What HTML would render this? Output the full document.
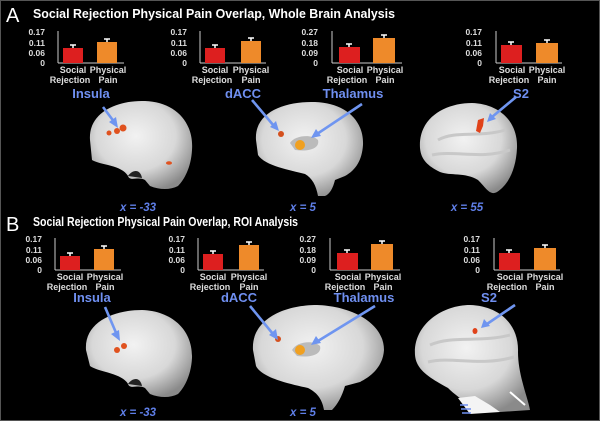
<!DOCTYPE html>
<html><head><meta charset="utf-8"><style>
html,body{margin:0;padding:0;background:#000;}
svg{display:block;}
text{font-family:"Liberation Sans",sans-serif;}
.t{fill:#fff;font-weight:bold;font-size:12.5px;}
.tk{fill:#ddd;font-weight:bold;font-size:8.5px;text-anchor:end;}
.cl{fill:#ddd;font-weight:bold;font-size:9px;text-anchor:middle;}
.rl{fill:#6f8ff0;font-weight:bold;font-size:13px;text-anchor:middle;}
.xl{fill:#5f7fe8;font-weight:bold;font-style:italic;font-size:11.5px;text-anchor:middle;}
.ar{stroke:#6f95f0;stroke-width:2.6;fill:none;}
.ah{fill:#6f95f0;}
</style></head><body>
<svg width="600" height="421" viewBox="0 0 600 421" xmlns="http://www.w3.org/2000/svg">
<defs>
<radialGradient id="g" cx="45%" cy="40%" r="65%">
<stop offset="0" stop-color="#f2f2f2"/><stop offset="0.6" stop-color="#d8d8d8"/><stop offset="1" stop-color="#8a8a8a"/>
</radialGradient>
<g id="chart">
<line x1="0" y1="0" x2="0" y2="32" stroke="#ccc" stroke-width="1"/>
<line x1="0" y1="32" x2="66" y2="32" stroke="#ccc" stroke-width="1"/>
</g>
</defs>
<rect width="600" height="421" fill="#000"/>
<rect x="0.5" y="0.5" width="599" height="420" fill="none" stroke="#555"/>

<!-- Panel A -->
<text x="6" y="22" fill="#fff" font-size="20" font-family="Liberation Sans">A</text>
<text x="33" y="18" class="t" textLength="362" lengthAdjust="spacingAndGlyphs">Social Rejection Physical Pain Overlap, Whole Brain Analysis</text>

<!-- charts A: base y=63 -->
<g id="cA1">
<g class="tk"><text x="45" y="35">0.17</text><text x="45" y="46">0.11</text><text x="45" y="56">0.06</text><text x="45" y="66">0</text></g>
<line x1="58" y1="31" x2="58" y2="63" stroke="#ccc"/><line x1="58" y1="63" x2="124" y2="63" stroke="#ccc"/>
<rect x="63" y="48" width="20" height="15" fill="#dd1f1f"/><rect x="97" y="42" width="20" height="21" fill="#ee8a2a"/>
<path d="M73 48V45M70 45h6M107 42V39M104 39h6" stroke="#fff" stroke-width="1.5"/>
<g class="cl"><text x="73" y="73">Social</text><text x="70" y="83">Rejection</text><text x="108" y="73">Physical</text><text x="108" y="83">Pain</text></g>
</g>
<g>
<g class="tk"><text x="187" y="35">0.17</text><text x="187" y="46">0.11</text><text x="187" y="56">0.06</text><text x="187" y="66">0</text></g>
<line x1="200" y1="31" x2="200" y2="63" stroke="#ccc"/><line x1="200" y1="63" x2="266" y2="63" stroke="#ccc"/>
<rect x="205" y="48" width="20" height="15" fill="#dd1f1f"/><rect x="241" y="41" width="20" height="22" fill="#ee8a2a"/>
<path d="M215 48V45M212 45h6M251 41V38M248 38h6" stroke="#fff" stroke-width="1.5"/>
<g class="cl"><text x="215" y="73">Social</text><text x="212" y="83">Rejection</text><text x="251" y="73">Physical</text><text x="251" y="83">Pain</text></g>
</g>
<g>
<g class="tk"><text x="318" y="35">0.27</text><text x="318" y="46">0.18</text><text x="318" y="56">0.09</text><text x="318" y="66">0</text></g>
<line x1="332" y1="31" x2="332" y2="63" stroke="#ccc"/><line x1="332" y1="63" x2="402" y2="63" stroke="#ccc"/>
<rect x="339" y="47" width="21" height="16" fill="#dd1f1f"/><rect x="373" y="38" width="22" height="25" fill="#ee8a2a"/>
<path d="M349 47V44M346 44h6M384 38V35M381 35h6" stroke="#fff" stroke-width="1.5"/>
<g class="cl"><text x="350" y="73">Social</text><text x="347" y="83">Rejection</text><text x="385" y="73">Physical</text><text x="385" y="83">Pain</text></g>
</g>
<g>
<g class="tk"><text x="482" y="35">0.17</text><text x="482" y="46">0.11</text><text x="482" y="56">0.06</text><text x="482" y="66">0</text></g>
<line x1="496" y1="31" x2="496" y2="63" stroke="#ccc"/><line x1="496" y1="63" x2="562" y2="63" stroke="#ccc"/>
<rect x="501" y="45" width="21" height="18" fill="#dd1f1f"/><rect x="536" y="43" width="22" height="20" fill="#ee8a2a"/>
<path d="M511 45V42M508 42h6M547 43V40M544 40h6" stroke="#fff" stroke-width="1.5"/>
<g class="cl"><text x="512" y="73">Social</text><text x="509" y="83">Rejection</text><text x="547" y="73">Physical</text><text x="547" y="83">Pain</text></g>
</g>

<text x="91" y="98" class="rl">Insula</text>
<text x="243" y="98" class="rl">dACC</text>
<text x="353" y="98" class="rl">Thalamus</text>
<text x="521" y="98" class="rl">S2</text>

<!-- Brains A -->
<path d="M90 140 C88 112 118 100 145 101 C175 102 194 122 192 150 C191 168 184 180 178 186 C170 190 160 190 150 186 L145 180 C138 176 130 182 128 176 C122 165 100 165 92 160 Z" fill="url(#g)"/>
<path d="M128 176 C132 170 140 168 142 178 Z" fill="#222"/>
<circle cx="117" cy="131" r="3" fill="#e0521f"/><circle cx="123" cy="128" r="3.5" fill="#e0521f"/><circle cx="109" cy="133" r="2.5" fill="#e0521f"/>
<ellipse cx="169" cy="163" rx="3" ry="1.8" fill="#e0521f"/>

<path d="M256 140 C254 112 285 101 315 102 C345 103 364 120 363 145 C362 160 356 170 345 176 L335 180 C333 188 330 194 325 196 L318 196 C316 185 312 178 305 174 C290 170 265 166 258 155 Z" fill="url(#g)"/>
<path d="M290 143 C295 135 312 134 318 140 C320 148 310 152 295 150 Z" fill="#bbb"/>
<circle cx="281" cy="134" r="3" fill="#d4501e"/>
<ellipse cx="300" cy="145" rx="5" ry="5" fill="#f0a020"/>

<path d="M420 148 C418 118 445 103 472 103 C500 104 518 122 517 148 C516 170 508 185 497 192 C490 196 486 188 478 180 C465 172 450 176 440 172 C428 166 421 160 420 148 Z" fill="url(#g)"/>
<path d="M438 140 C455 130 480 138 505 130 M432 155 C455 150 480 160 510 150" stroke="#c8c8c8" stroke-width="3" fill="none"/>
<path d="M478 120 L484 118 L483 126 L480 133 L476 131 Z" fill="#e0421a"/>

<!-- arrows A -->
<g class="ar"><path d="M103 107 L115 123"/><path d="M252 100 L274 126"/><path d="M362 104 L317 134"/><path d="M516 97 L492 117"/></g>
<g class="ah"><polygon points="118,128 109,122 116,117"/><polygon points="279,131 270,127 276,121"/><polygon points="311,138 316,129 321,136"/><polygon points="487,122 490,113 496,119"/></g>

<text x="138" y="211" class="xl">x = -33</text>
<text x="303" y="211" class="xl">x = 5</text>
<text x="467" y="211" class="xl">x = 55</text>

<!-- Panel B -->
<text x="6" y="231" fill="#fff" font-size="20" font-family="Liberation Sans">B</text>
<text x="33" y="226" class="t" textLength="265" lengthAdjust="spacingAndGlyphs">Social Rejection Physical Pain Overlap, ROI Analysis</text>

<g transform="translate(-3,207)">
<g class="tk"><text x="45" y="35">0.17</text><text x="45" y="46">0.11</text><text x="45" y="56">0.06</text><text x="45" y="66">0</text></g>
<line x1="58" y1="31" x2="58" y2="63" stroke="#ccc"/><line x1="58" y1="63" x2="124" y2="63" stroke="#ccc"/>
<rect x="63" y="49" width="20" height="14" fill="#dd1f1f"/><rect x="97" y="42" width="20" height="21" fill="#ee8a2a"/>
<path d="M73 49V46M70 46h6M107 42V39M104 39h6" stroke="#fff" stroke-width="1.5"/>
<g class="cl"><text x="73" y="73">Social</text><text x="70" y="83">Rejection</text><text x="108" y="73">Physical</text><text x="108" y="83">Pain</text></g>
</g>
<g transform="translate(-2,207)">
<g class="tk"><text x="187" y="35">0.17</text><text x="187" y="46">0.11</text><text x="187" y="56">0.06</text><text x="187" y="66">0</text></g>
<line x1="200" y1="31" x2="200" y2="63" stroke="#ccc"/><line x1="200" y1="63" x2="266" y2="63" stroke="#ccc"/>
<rect x="205" y="47" width="20" height="16" fill="#dd1f1f"/><rect x="241" y="38" width="20" height="25" fill="#ee8a2a"/>
<path d="M215 47V44M212 44h6M251 38V35M248 35h6" stroke="#fff" stroke-width="1.5"/>
<g class="cl"><text x="215" y="73">Social</text><text x="212" y="83">Rejection</text><text x="251" y="73">Physical</text><text x="251" y="83">Pain</text></g>
</g>
<g transform="translate(-2,207)">
<g class="tk"><text x="318" y="35">0.27</text><text x="318" y="46">0.18</text><text x="318" y="56">0.09</text><text x="318" y="66">0</text></g>
<line x1="332" y1="31" x2="332" y2="63" stroke="#ccc"/><line x1="332" y1="63" x2="402" y2="63" stroke="#ccc"/>
<rect x="339" y="46" width="21" height="17" fill="#dd1f1f"/><rect x="373" y="37" width="22" height="26" fill="#ee8a2a"/>
<path d="M349 46V43M346 43h6M384 37V34M381 34h6" stroke="#fff" stroke-width="1.5"/>
<g class="cl"><text x="350" y="73">Social</text><text x="347" y="83">Rejection</text><text x="385" y="73">Physical</text><text x="385" y="83">Pain</text></g>
</g>
<g transform="translate(-2,207)">
<g class="tk"><text x="482" y="35">0.17</text><text x="482" y="46">0.11</text><text x="482" y="56">0.06</text><text x="482" y="66">0</text></g>
<line x1="496" y1="31" x2="496" y2="63" stroke="#ccc"/><line x1="496" y1="63" x2="562" y2="63" stroke="#ccc"/>
<rect x="501" y="46" width="21" height="17" fill="#dd1f1f"/><rect x="536" y="41" width="22" height="22" fill="#ee8a2a"/>
<path d="M511 46V43M508 43h6M547 41V38M544 38h6" stroke="#fff" stroke-width="1.5"/>
<g class="cl"><text x="512" y="73">Social</text><text x="509" y="83">Rejection</text><text x="547" y="73">Physical</text><text x="547" y="83">Pain</text></g>
</g>

<text x="92" y="302" class="rl">Insula</text>
<text x="239" y="302" class="rl">dACC</text>
<text x="364" y="302" class="rl">Thalamus</text>
<text x="489" y="302" class="rl">S2</text>

<!-- Brains B -->
<path d="M86 350 C84 322 114 310 142 310 C172 311 193 330 192 358 C191 376 184 388 178 394 C170 398 160 398 150 394 L145 388 C138 384 130 390 128 384 C122 373 98 372 90 366 Z" fill="url(#g)"/>
<path d="M128 384 C132 378 140 376 142 386 Z" fill="#222"/>
<circle cx="117" cy="350" r="3" fill="#e0521f"/><circle cx="124" cy="346" r="3" fill="#e0521f"/>

<path d="M253 350 C251 320 283 305 317 305 C350 306 384 322 384 350 C383 366 372 376 360 382 L345 386 C342 396 338 404 332 410 L324 410 C322 398 316 392 308 388 C290 384 262 378 256 366 Z" fill="url(#g)"/>
<path d="M292 350 C297 341 314 340 320 346 C322 354 312 358 297 356 Z" fill="#bbb"/>
<circle cx="278" cy="339" r="3" fill="#d4501e"/>
<ellipse cx="300" cy="350" rx="5" ry="5" fill="#f0a020"/>

<path d="M415 355 C413 325 442 305 470 305 C500 306 519 325 518 352 C518 375 528 398 530 410 L500 412 C480 412 460 400 448 388 C430 378 416 370 415 355 Z" fill="url(#g)"/>
<path d="M430 345 C452 335 480 343 510 335 M428 362 C452 356 480 367 514 357" stroke="#c8c8c8" stroke-width="3" fill="none"/>
<path d="M458 398 L475 396 L490 405 L500 412 L470 414 Z" fill="#f4f4f4"/>
<path d="M460 405 h8 M461 409 h10 M462 413 h9" stroke="#6f8ff0" stroke-width="1.5"/>
<line x1="510" y1="392" x2="525" y2="405" stroke="#fff" stroke-width="2"/>
<ellipse cx="475" cy="331" rx="2.5" ry="3" fill="#e0421a"/>

<!-- arrows B -->
<g class="ar"><path d="M105 307 L117 335"/><path d="M250 306 L273 334"/><path d="M375 306 L318 341"/><path d="M515 305 L487 324"/></g>
<g class="ah"><polygon points="120,341 111,334 119,330"/><polygon points="278,340 269,335 276,329"/><polygon points="311,345 316,336 321,343"/><polygon points="481,328 484,319 490,326"/></g>

<text x="138" y="416" class="xl">x = -33</text>
<text x="303" y="416" class="xl">x = 5</text>
</svg>
</body></html>
